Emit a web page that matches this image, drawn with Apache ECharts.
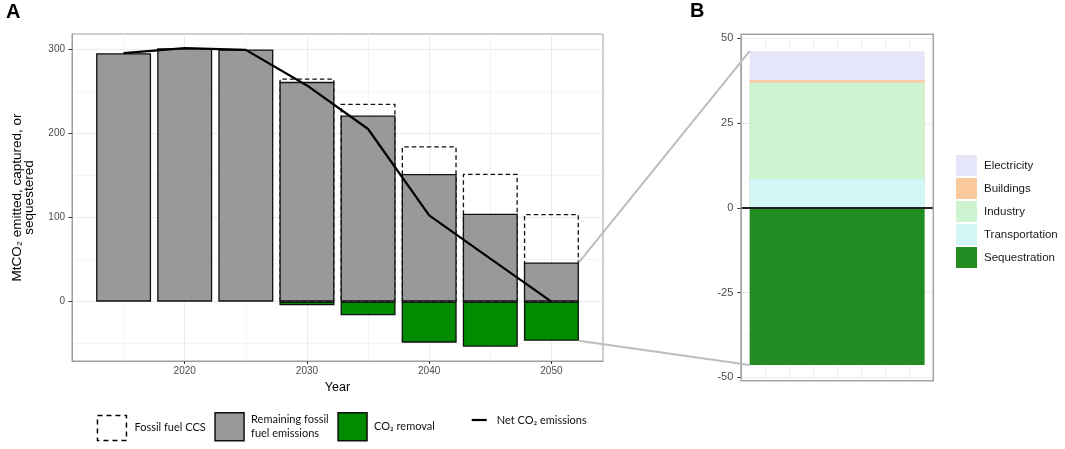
<!DOCTYPE html>
<html>
<head>
<meta charset="utf-8">
<script src="https://cdn.jsdelivr.net/npm/echarts@6/dist/echarts.min.js"></script>
<style>
  html, body { margin: 0; padding: 0; background: #fff; }
  #chart { width: 1065px; height: 449px; }
</style>
</head>
<body>
<div id="chart"></div>
<script>
// panel A: emissions by year (MtCO2)
var years = [2015, 2020, 2025, 2030, 2035, 2040, 2045, 2050];
var remaining = [295, 301, 299.5, 261, 221, 151.5, 104.5, 46.5];
var ccs = [null, null, null, 4, 14, 33, 47.5, 57.5];
var removal = [null, null, null, -4.3, -16.2, -48.7, -53.5, -46.4];
var net = [295, 301, 299, 256.7, 205, 102.5, 51, 0];
var xTicksA = [2020, 2030, 2040, 2050];
var xMinorA = [2015, 2025, 2035, 2045];
var yTicksA = [0, 100, 200, 300];
var yMinorA = [-50, 50, 150, 250];

// panel B: 2050 breakdown
var sectors = ['Electricity', 'Buildings', 'Industry', 'Transportation', 'Sequestration'];
var sectorValues = [8.6, 0.7, 28.5, 8.4, -46.4];
var sectorColors = ['#e6e6fa', '#fac99c', '#cdf3d1', '#d2f5f5', '#228b22'];
var stackOrder = [3, 2, 1, 0]; // bottom up, positives

var FONT = 'Liberation Sans';
var LEG_FONT = 'Lato';
var B_X = 3;        // bar slot in panel B
var BAR_A = 55;     // px
var BAR_B = 175;    // px

function pairs(xs, ys) {
  return xs.map(function (x, i) { return [x, ys[i] == null ? '-' : ys[i]]; });
}

// CCS box sits on top of the remaining emissions
var ccsTop = remaining.map(function (v, i) { return ccs[i] == null ? null : v + ccs[i]; });

var chart = echarts.init(document.getElementById('chart'));

function gl(key, v, major) {
  var o = { lineStyle: { color: major ? '#ebebeb' : '#f3f3f3', width: major ? 1 : 0.8, type: 'solid' } };
  o[key] = v;
  return o;
}
var gridLinesA = xMinorA.map(function (v) { return gl('xAxis', v, false); })
  .concat(yMinorA.map(function (v) { return gl('yAxis', v, false); }))
  .concat(xTicksA.map(function (v) { return gl('xAxis', v, true); }))
  .concat(yTicksA.map(function (v) { return gl('yAxis', v, true); }));

// panel B: cumulative tops, tallest drawn first so the shorter ones cover it
var cum = 0;
var cumTops = {};
stackOrder.forEach(function (k) { cum += sectorValues[k]; cumTops[k] = cum; });
var seriesB = stackOrder.slice().reverse().map(function (k) {
  return {
    name: sectors[k], type: 'bar', xAxisIndex: 1, yAxisIndex: 1, barGap: '-100%',
    barWidth: BAR_B, data: [[B_X, cumTops[k]]],
    itemStyle: { color: sectorColors[k] }
  };
});
seriesB.push({
  name: sectors[4], type: 'bar', xAxisIndex: 1, yAxisIndex: 1, barGap: '-100%',
  barWidth: BAR_B, data: [[B_X, sectorValues[4]]],
  itemStyle: { color: sectorColors[4] },
  markLine: {
    silent: true, symbol: ['none', 'none'], label: { show: false },
    lineStyle: { color: '#222', width: 1.8, type: 'solid' },
    data: [{ yAxis: 0 }]
  }
});

var legendText = { fontFamily: LEG_FONT, fontSize: 11, color: '#111' };

var option = {
  animation: false,
  backgroundColor: '#fff',
  grid: [
    { left: 72, top: 34, width: 531, height: 327, show: true, borderColor: '#9e9e9e', borderWidth: 1, backgroundColor: '#fff' },
    { left: 741, top: 38.3, width: 192.3, height: 339 }
  ],
  xAxis: [
    {
      gridIndex: 0, type: 'value', min: 2010.78, max: 2054.22, position: 'bottom',
      splitLine: { show: false },
      axisLine: { show: true, onZero: false, lineStyle: { color: '#9e9e9e' } },
      axisTick: { show: true, customValues: xTicksA, length: 3, lineStyle: { color: '#333' } },
      axisLabel: {
        customValues: xTicksA, margin: 5, color: '#4d4d4d', fontSize: 10, fontFamily: FONT,
        formatter: function (v) { return v % 10 === 0 ? String(v) : ''; }
      },
      name: 'Year', nameLocation: 'middle', nameGap: 17,
      nameTextStyle: { fontFamily: FONT, fontSize: 12.5, color: '#000' }
    },
    {
      gridIndex: 1, type: 'value', min: -1, max: 7, interval: 1, position: 'bottom',
      axisLine: { show: false, onZero: false }, axisTick: { show: false }, axisLabel: { show: false },
      splitLine: { show: true, lineStyle: { color: '#efefef', width: 1 } }
    }
  ],
  yAxis: [
    {
      gridIndex: 0, type: 'value', min: -70.5, max: 317.8, position: 'left',
      splitLine: { show: false },
      axisLine: { show: true, onZero: false, lineStyle: { color: '#9e9e9e' } },
      axisTick: { show: true, customValues: yTicksA, length: 3.5, lineStyle: { color: '#333' } },
      axisLabel: {
        customValues: yTicksA, margin: 7, color: '#4d4d4d', fontSize: 10, fontFamily: FONT,
        formatter: function (v) { return v % 100 === 0 ? String(v) : ''; }
      },
      name: 'MtCO\u2082 emitted, captured, or\nsequestered',
      nameLocation: 'middle', nameRotate: 90, nameGap: 37,
      nameTextStyle: { fontFamily: FONT, fontSize: 13.5, lineHeight: 11.5, color: '#000', align: 'center' }
    },
    {
      gridIndex: 1, type: 'value', min: -50, max: 50, interval: 25, position: 'left',
      axisLine: { show: true, onZero: false, lineStyle: { color: '#a3a3a3' } },
      axisTick: { show: true, length: 3.7, lineStyle: { color: '#333' } },
      axisLabel: { margin: 7.7, color: '#4d4d4d', fontSize: 11, fontFamily: FONT },
      splitLine: { show: true, lineStyle: { color: '#ebebeb', width: 1 } },
      minorTick: { show: false, splitNumber: 2 },
      minorSplitLine: { show: true, lineStyle: { color: '#f4f4f4', width: 0.8 } }
    }
  ],
  legend: [
    {
      data: ['Fossil fuel CCS'], left: 96.7, top: 414.7, padding: 0, itemWidth: 29, itemHeight: 25,
      icon: 'rect', selectedMode: false,
      itemStyle: { color: 'rgba(0,0,0,0)', borderColor: '#000', borderWidth: 1.5, borderType: [5, 4] },
      textStyle: Object.assign({ padding: [0, 0, 0, 3] }, legendText)
    },
    {
      data: ['Remaining fossil fuel emissions'], left: 214.3, top: 412, padding: 0, itemWidth: 29, itemHeight: 28,
      icon: 'rect', selectedMode: false,
      itemStyle: { borderColor: '#111', borderWidth: 1.5 },
      formatter: 'Remaining fossil\nfuel emissions',
      textStyle: Object.assign({ padding: [0, 0, 0, 2], lineHeight: 13.7 }, legendText)
    },
    {
      data: ['CO\u2082 removal'], left: 337.3, top: 412, padding: 0, itemWidth: 29, itemHeight: 28,
      icon: 'rect', selectedMode: false,
      itemStyle: { borderColor: '#111', borderWidth: 1.5 },
      textStyle: Object.assign({ padding: [0, 0, 0, 2] }, legendText)
    },
    {
      data: ['Net CO\u2082 emissions'], left: 471.7, top: 414.5, padding: 0, itemWidth: 15, itemHeight: 2.2,
      icon: 'rect', selectedMode: false,
      itemStyle: { color: '#000' },
      textStyle: Object.assign({ padding: [0, 0, 0, 5] }, legendText)
    },
    {
      data: sectors, orient: 'vertical', left: 956, top: 155, padding: 0, itemWidth: 21, itemHeight: 21, itemGap: 2,
      icon: 'rect', selectedMode: false,
      textStyle: { fontFamily: FONT, fontSize: 11.5, color: '#1a1a1a', padding: [0, 0, 0, 2] }
    }
  ],
  graphic: [
    { id: 'labA', type: 'text', left: 6, top: 2, style: { text: 'A', font: 'bold 20px "Liberation Sans"', fill: '#000' } },
    { id: 'labB', type: 'text', left: 690, top: 1, style: { text: 'B', font: 'bold 20px "Liberation Sans"', fill: '#000' } },
    { id: 'borderB', type: 'rect', z: 50, silent: true,
      shape: { x: 741, y: 34.3, width: 192.3, height: 346.4 },
      style: { fill: 'none', stroke: '#a3a3a3', lineWidth: 1.5 } }
  ],
  series: [
    {
      type: 'line', xAxisIndex: 0, yAxisIndex: 0, data: [], z: 0, silent: true,
      markLine: { silent: true, z: 0, symbol: ['none', 'none'], label: { show: false }, animation: false, data: gridLinesA }
    },
    {
      name: 'Fossil fuel CCS', type: 'bar', barGap: '-100%', barWidth: BAR_A,
      data: pairs(years, ccsTop),
      itemStyle: { color: 'rgba(0,0,0,0)', borderColor: '#111', borderWidth: 1.3, borderType: [4.5, 3] }
    },
    {
      name: 'Remaining fossil fuel emissions', type: 'bar', barGap: '-100%', barWidth: BAR_A,
      data: pairs(years, remaining),
      itemStyle: { color: '#999999', borderColor: '#111', borderWidth: 1.3 }
    },
    {
      name: 'CO\u2082 removal', type: 'bar', barGap: '-100%', barWidth: BAR_A,
      data: pairs(years, removal),
      itemStyle: { color: '#008b00', borderColor: '#111', borderWidth: 1.3 }
    },
    {
      name: 'Net CO\u2082 emissions', type: 'line', z: 5,
      data: pairs(years, net), symbol: 'none',
      lineStyle: { color: '#000', width: 2.2 }, itemStyle: { color: '#000' }
    }
  ].concat(seriesB)
};

chart.setOption(option);

// zoom connectors from the 2050 bar to panel B
var last = years.length - 1;
var bTopVal = cum;
var bBotVal = sectorValues[4];
var aTop = chart.convertToPixel({ xAxisIndex: 0, yAxisIndex: 0 }, [years[last], remaining[last]]);
var aBot = chart.convertToPixel({ xAxisIndex: 0, yAxisIndex: 0 }, [years[last], removal[last]]);
var bTop = chart.convertToPixel({ xAxisIndex: 1, yAxisIndex: 1 }, [B_X, bTopVal]);
var bBot = chart.convertToPixel({ xAxisIndex: 1, yAxisIndex: 1 }, [B_X, bBotVal]);
var connStyle = { stroke: '#bdbdbd', lineWidth: 2 };
chart.setOption({
  graphic: [
    { id: 'connTop', type: 'line', z: 60, silent: true,
      shape: { x1: aTop[0] + BAR_A / 2, y1: aTop[1], x2: bTop[0] - BAR_B / 2, y2: bTop[1] }, style: connStyle },
    { id: 'connBot', type: 'line', z: 60, silent: true,
      shape: { x1: aBot[0] + BAR_A / 2, y1: aBot[1], x2: bBot[0] - BAR_B / 2, y2: bBot[1] }, style: connStyle }
  ]
});
</script>
</body>
</html>
